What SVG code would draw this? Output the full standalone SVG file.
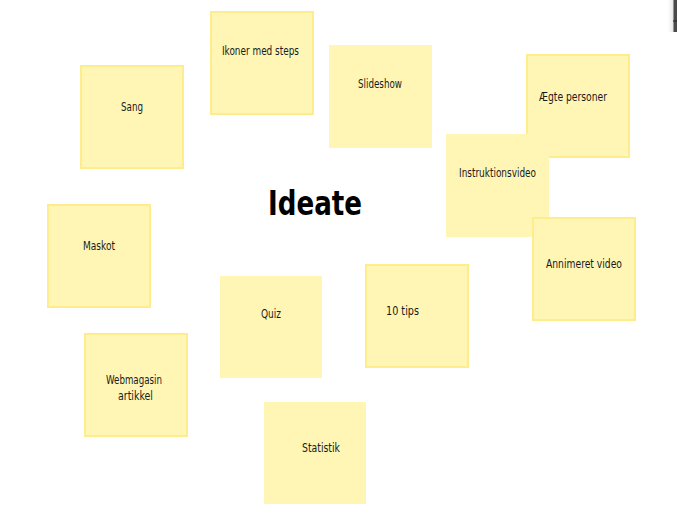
<svg xmlns="http://www.w3.org/2000/svg" width="677" height="528" viewBox="0 0 677 528">
<style>
.note{fill:#fff6b6}
.b{stroke:#ffec8c;stroke-width:2}
.t{font-family:"Liberation Sans Narrow","DejaVu Sans Condensed","Liberation Sans",sans-serif;font-size:12.5px;fill:#1a1a1a}
.title{font-family:"DejaVu Sans","Liberation Sans",sans-serif;font-size:34px;font-weight:bold;fill:#000}
</style>
<defs><linearGradient id="sh" x1="0" x2="1"><stop offset="0" stop-color="#fff" stop-opacity="0"/><stop offset="1" stop-color="#ddd"/></linearGradient></defs>
<rect width="677" height="528" fill="#fff"/>
<rect x="666" y="0" width="8" height="32" fill="url(#sh)"/>
<rect x="673.5" y="0" width="3.5" height="32" fill="#4a4a4a"/>
<line x1="673" y1="21" x2="677" y2="21" stroke="#222" stroke-width="1"/>
<g id="title"><text class="title" x="268" y="215" textLength="94" lengthAdjust="spacingAndGlyphs">Ideate</text></g>
<g id="connectors"></g>
<g id="n-ikoner"><rect class="note b" x="211" y="12" width="102" height="102"/><text class="t" x="222" y="55" textLength="77" lengthAdjust="spacingAndGlyphs">Ikoner med steps</text></g>
<g id="n-slideshow"><rect class="note" x="329" y="45" width="103" height="103"/><text class="t" x="358" y="88" textLength="44" lengthAdjust="spacingAndGlyphs">Slideshow</text></g>
<g id="n-sang"><rect class="note b" x="81" y="66" width="102" height="102"/><text class="t" x="121" y="111" textLength="22" lengthAdjust="spacingAndGlyphs">Sang</text></g>
<g id="n-maskot"><rect class="note b" x="48" y="205" width="102" height="102"/><text class="t" x="83" y="250" textLength="32" lengthAdjust="spacingAndGlyphs">Maskot</text></g>
<g id="n-aegte"><rect class="note b" x="527" y="55" width="102" height="102"/><text class="t" x="539" y="101" textLength="68" lengthAdjust="spacingAndGlyphs">Ægte personer</text></g>
<g id="n-instruktion"><rect class="note" x="446" y="134" width="103" height="103"/><text class="t" x="459" y="177" textLength="77" lengthAdjust="spacingAndGlyphs">Instruktionsvideo</text></g>
<g id="n-annimeret"><rect class="note b" x="533" y="218" width="102" height="102"/><text class="t" x="546" y="268" textLength="76" lengthAdjust="spacingAndGlyphs">Annimeret video</text></g>
<g id="n-quiz"><rect class="note" x="220" y="276" width="102" height="102"/><text class="t" x="261" y="318" textLength="20" lengthAdjust="spacingAndGlyphs">Quiz</text></g>
<g id="n-10tips"><rect class="note b" x="366" y="265" width="102" height="102"/><text class="t" x="386" y="315" textLength="33" lengthAdjust="spacingAndGlyphs">10 tips</text></g>
<g id="n-webmagasin"><rect class="note b" x="85" y="334" width="102" height="102"/><text class="t" x="106" y="384" textLength="56" lengthAdjust="spacingAndGlyphs">Webmagasin</text><text class="t" x="118" y="400" textLength="35" lengthAdjust="spacingAndGlyphs">artikkel</text></g>
<g id="n-statistik"><rect class="note" x="264" y="402" width="102" height="102"/><text class="t" x="302" y="452" textLength="38" lengthAdjust="spacingAndGlyphs">Statistik</text></g>
</svg>
